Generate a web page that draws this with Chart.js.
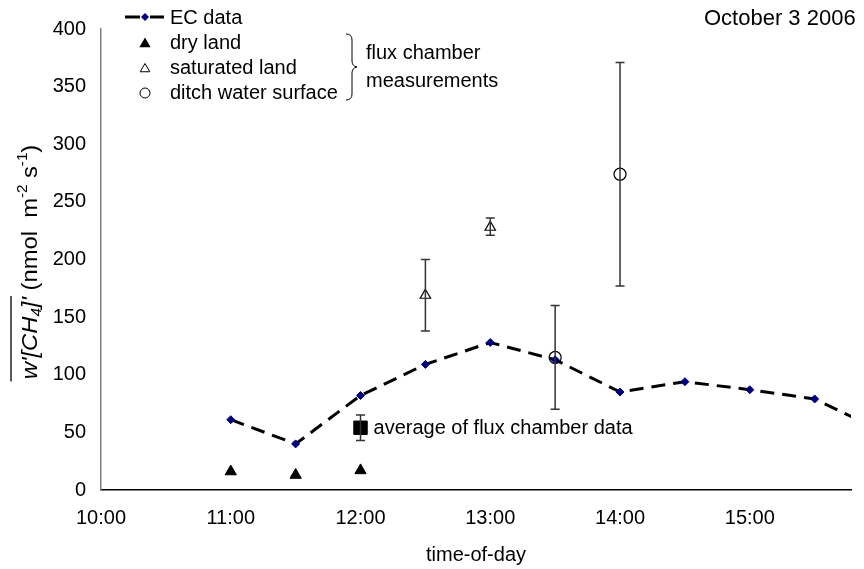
<!DOCTYPE html>
<html>
<head>
<meta charset="utf-8">
<script src="https://cdn.jsdelivr.net/npm/chart.js@4.4.0/dist/chart.umd.min.js"></script>
<style>
  html, body { margin: 0; padding: 0; background: #fff; }
  #wrap { width: 864px; height: 569px; }
</style>
</head>
<body>
<div id="wrap"><canvas id="fluxChart"></canvas></div>
<script>
// time of day in hours, flux in nmol m-2 s-1
const ecTimes = [11, 11.5, 12, 12.5, 13, 13.5, 14, 14.5, 15, 15.5, 16];
const ecValues = [61, 40, 82, 109, 128, 113, 85, 94, 87, 79, 52];

const dryTimes = [11, 11.5, 12];
const dryValues = [16, 13, 17];

const satTimes = [12.5, 13];
const satValues = [169, 228];
const satLow = [138, 221];
const satHigh = [200, 236];

const ditchTimes = [13.5, 14];
const ditchValues = [115, 274];
const ditchLow = [70, 177];
const ditchHigh = [160, 371];

const avgTimes = [12];
const avgValues = [54];
const avgLow = [43];
const avgHigh = [65];

const xTicks = [10, 11, 12, 13, 14, 15];
const yTicks = [0, 50, 100, 150, 200, 250, 300, 350, 400];

const FONT = "Liberation Sans, Arial, sans-serif";
const FS = 20;

function pts(xs, ys) {
    return xs.map((x, i) => ({ x: x, y: ys[i] }));
}

// vertical error bars with caps, drawn through the scales
const errorBars = {
    id: "errorBars",
    afterDatasetsDraw(chart) {
        const ctx = chart.ctx;
        const xs = chart.scales.x, ys = chart.scales.y;
        const groups = [
            [satTimes, satLow, satHigh],
            [ditchTimes, ditchLow, ditchHigh],
            [avgTimes, avgLow, avgHigh]
        ];
        ctx.save();
        ctx.strokeStyle = "#333";
        ctx.lineWidth = 1.5;
        groups.forEach(([t, lo, hi]) => {
            t.forEach((tt, i) => {
                const px = xs.getPixelForValue(tt);
                const y1 = ys.getPixelForValue(lo[i]);
                const y2 = ys.getPixelForValue(hi[i]);
                ctx.beginPath();
                ctx.moveTo(px, y1); ctx.lineTo(px, y2);
                ctx.moveTo(px - 4.5, y1); ctx.lineTo(px + 4.5, y1);
                ctx.moveTo(px - 4.5, y2); ctx.lineTo(px + 4.5, y2);
                ctx.stroke();
            });
        });
        ctx.restore();
    }
};

function triangle(ctx, x, y, r, filled) {
    ctx.beginPath();
    ctx.moveTo(x, y - r);
    ctx.lineTo(x + r * 0.87, y + r * 0.5);
    ctx.lineTo(x - r * 0.87, y + r * 0.5);
    ctx.closePath();
    if (filled) { ctx.fill(); } else { ctx.stroke(); }
}

// legend, annotations and the rich y-axis title
const decorations = {
    id: "decorations",
    afterDraw(chart) {
        const ctx = chart.ctx;
        ctx.save();
        ctx.fillStyle = "#000";
        ctx.strokeStyle = "#000";
        ctx.font = FS + "px " + FONT;
        ctx.textBaseline = "middle";
        ctx.textAlign = "left";

        // legend
        ctx.lineWidth = 3;
        ctx.beginPath();
        ctx.moveTo(125, 17); ctx.lineTo(140, 17);
        ctx.moveTo(150, 17); ctx.lineTo(164, 17);
        ctx.stroke();
        ctx.fillStyle = "#000080";
        ctx.beginPath();
        ctx.moveTo(145, 13); ctx.lineTo(149, 17); ctx.lineTo(145, 21); ctx.lineTo(141, 17);
        ctx.closePath(); ctx.fill();
        ctx.fillStyle = "#000";
        ctx.fillText("EC data", 170, 18);

        triangle(ctx, 145, 44, 6.5, true);
        ctx.fillText("dry land", 170, 43);
        ctx.lineWidth = 1;
        triangle(ctx, 145, 69, 5.5, false);
        ctx.fillText("saturated land", 170, 68);
        ctx.beginPath();
        ctx.arc(145, 93, 5, 0, Math.PI * 2);
        ctx.stroke();
        ctx.fillText("ditch water surface", 170, 93);

        // brace
        ctx.lineWidth = 1;
        ctx.beginPath();
        ctx.moveTo(346, 34);
        ctx.quadraticCurveTo(352, 34, 352, 40);
        ctx.lineTo(352, 61);
        ctx.quadraticCurveTo(352, 66, 357, 67);
        ctx.quadraticCurveTo(352, 68, 352, 73);
        ctx.lineTo(352, 94);
        ctx.quadraticCurveTo(352, 100, 346, 100);
        ctx.stroke();
        ctx.fillText("flux chamber", 366, 53);
        ctx.fillText("measurements", 366, 81);

        ctx.font = "22px " + FONT;
        ctx.fillText("October 3 2006", 704, 19);

        ctx.font = FS + "px " + FONT;
        const ax = chart.scales.x.getPixelForValue(avgTimes[0]);
        const ay = chart.scales.y.getPixelForValue(avgValues[0]);
        ctx.fillText("average of flux chamber data", ax + 13, ay + 1);

        // y-axis title, rotated and drawn a little stretched like the original
        ctx.translate(37, 262);
        ctx.rotate(-Math.PI / 2);
        ctx.scale(1.08, 1);
        ctx.textBaseline = "alphabetic";
        const big = 22, small = 14;
        const parts = [
            { t: "w'[CH", f: "italic " + big + "px " + FONT, dy: 0 },
            { t: "4", f: "italic " + small + "px " + FONT, dy: 4 },
            { t: "]'", f: "italic " + big + "px " + FONT, dy: 0 },
            { t: " (nmol  m", f: big + "px " + FONT, dy: 0 },
            { t: "-2", f: small + "px " + FONT, dy: -10 },
            { t: " s", f: big + "px " + FONT, dy: 0 },
            { t: "-1", f: small + "px " + FONT, dy: -10 },
            { t: ")", f: big + "px " + FONT, dy: 0 }
        ];
        let total = 0;
        parts.forEach(p => { ctx.font = p.f; p.w = ctx.measureText(p.t).width; total += p.w; });
        let cx = -total / 2;
        let overEnd = cx;
        parts.forEach((p, i) => {
            ctx.font = p.f;
            ctx.fillText(p.t, cx, p.dy);
            cx += p.w;
            if (i === 2) overEnd = cx;
        });
        ctx.lineWidth = 1.3;
        ctx.beginPath();
        ctx.moveTo(-total / 2 - 2, -26);
        ctx.lineTo(overEnd + 1, -26);
        ctx.stroke();
        ctx.restore();
    }
};

new Chart(document.getElementById("fluxChart"), {
    type: "scatter",
    data: {
        datasets: [
            {
                label: "EC data",
                data: pts(ecTimes, ecValues),
                showLine: true,
                borderColor: "#000",
                borderWidth: 3,
                borderDash: [14, 8],
                pointStyle: "rectRot",
                pointRadius: 4,
                pointBackgroundColor: "#000080",
                pointBorderColor: "#000080",
                pointBorderWidth: 1
            },
            {
                label: "dry land",
                data: pts(dryTimes, dryValues),
                pointStyle: "triangle",
                pointRadius: 6.5,
                pointBackgroundColor: "#000",
                pointBorderColor: "#000"
            },
            {
                label: "saturated land",
                data: pts(satTimes, satValues),
                pointStyle: "triangle",
                pointRadius: 6,
                pointBackgroundColor: "rgba(255,255,255,0)",
                pointBorderColor: "#000",
                pointBorderWidth: 1.2
            },
            {
                label: "ditch water surface",
                data: pts(ditchTimes, ditchValues),
                pointStyle: "circle",
                pointRadius: 6,
                pointBackgroundColor: "rgba(255,255,255,0)",
                pointBorderColor: "#000",
                pointBorderWidth: 1.2
            },
            {
                label: "average of flux chamber data",
                data: pts(avgTimes, avgValues),
                pointStyle: "rect",
                pointRadius: 9.5,
                pointBackgroundColor: "#000",
                pointBorderColor: "#000"
            }
        ]
    },
    options: {
        responsive: true,
        maintainAspectRatio: false,
        animation: false,
        layout: { padding: { top: 29, right: 13, bottom: 2, left: 0 } },
        plugins: { legend: { display: false }, tooltip: { enabled: false } },
        scales: {
            x: {
                type: "linear",
                min: 10,
                max: 15.78,
                afterBuildTicks: s => { s.ticks = xTicks.map(v => ({ value: v })); },
                afterFit: s => { s.height = 77; },
                grid: { display: false, drawTicks: true, tickLength: 6, tickColor: "#808080" },
                border: { color: "#000", width: 1.5 },
                ticks: {
                    color: "#000",
                    font: { family: FONT, size: FS },
                    padding: 10,
                    maxRotation: 0,
                    callback: v => v + ":00"
                },
                title: {
                    display: true,
                    text: "time-of-day",
                    color: "#000",
                    font: { family: FONT, size: FS },
                    padding: { top: 0, bottom: 0 }
                }
            },
            y: {
                min: 0,
                max: 400,
                afterBuildTicks: s => { s.ticks = yTicks.map(v => ({ value: v })); },
                afterFit: s => { s.width = 101; },
                grid: { display: false, drawTicks: true, tickLength: 6, tickColor: "#808080" },
                border: { color: "#808080", width: 1.5 },
                ticks: {
                    color: "#000",
                    font: { family: FONT, size: FS },
                    padding: 9
                }
            }
        }
    },
    plugins: [errorBars, decorations]
});
</script>
</body>
</html>
